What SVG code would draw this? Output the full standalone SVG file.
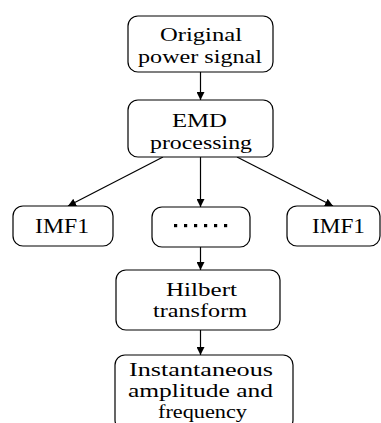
<svg xmlns="http://www.w3.org/2000/svg" width="381" height="423" viewBox="0 0 381 423">
<defs>
<style>
.box{fill:#fff;stroke:#000;stroke-width:1.2}
.t{font-family:"Liberation Serif","Times New Roman",serif;fill:#000;text-anchor:middle}
.big{font-size:19.6px}
.sm{font-size:18.6px}
.imf{font-family:"Liberation Serif","Times New Roman",serif;font-size:22px;fill:#000}
.ln{stroke:#000;stroke-width:1.2;fill:none;marker-end:url(#ah)}
</style>
<marker id="ah" viewBox="0 0 10 10" refX="10" refY="5" markerWidth="8" markerHeight="8" markerUnits="userSpaceOnUse" orient="auto">
<path d="M0,0 L10,5 L0,10 Z" fill="#000"/>
</marker>
</defs>
<rect width="381" height="423" fill="#fff"/>
<g id="connectors">
<line class="ln" x1="200.5" y1="72" x2="200.5" y2="100"/>
<line class="ln" x1="163" y1="157" x2="68" y2="206"/>
<line class="ln" x1="200.5" y1="157" x2="200.5" y2="207"/>
<line class="ln" x1="237" y1="157" x2="333" y2="206"/>
<line class="ln" x1="200.5" y1="247" x2="200.5" y2="270"/>
<line class="ln" x1="200.5" y1="330" x2="200.5" y2="355"/>
</g>
<g id="original">
<rect class="box" x="128" y="16" width="145" height="56" rx="10"/>
<text class="t big" x="201" y="41" textLength="82" lengthAdjust="spacingAndGlyphs">Original</text>
<text class="t big" x="200" y="63" textLength="124" lengthAdjust="spacingAndGlyphs">power signal</text>
</g>
<g id="emd">
<rect class="box" x="128" y="100" width="145" height="57" rx="10"/>
<text class="t big" x="199.5" y="127" textLength="55" lengthAdjust="spacingAndGlyphs">EMD</text>
<text class="t big" x="201" y="149" textLength="102" lengthAdjust="spacingAndGlyphs">processing</text>
</g>
<g id="imf-left">
<rect class="box" x="13" y="206" width="100" height="40" rx="10"/>
<text class="imf" x="35" y="233" textLength="54" lengthAdjust="spacingAndGlyphs">IMF1</text>
</g>
<g id="dots">
<rect class="box" x="152" y="207" width="98" height="40" rx="10"/>
<g fill="#000">
<rect x="174" y="224" width="3.2" height="3.2"/>
<rect x="184" y="224" width="3.2" height="3.2"/>
<rect x="194" y="224" width="3.2" height="3.2"/>
<rect x="204" y="224" width="3.2" height="3.2"/>
<rect x="214" y="224" width="3.2" height="3.2"/>
<rect x="224" y="224" width="3.2" height="3.2"/>
</g>
</g>
<g id="imf-right">
<rect class="box" x="287" y="206" width="93" height="40" rx="10"/>
<text class="imf" x="312" y="233" textLength="53" lengthAdjust="spacingAndGlyphs">IMF1</text>
</g>
<g id="hilbert">
<rect class="box" x="116" y="270" width="164" height="60" rx="10"/>
<text class="t sm" x="201.5" y="296" textLength="71" lengthAdjust="spacingAndGlyphs">Hilbert</text>
<text class="t sm" x="200" y="317" textLength="94" lengthAdjust="spacingAndGlyphs">transform</text>
</g>
<g id="instantaneous">
<rect class="box" x="115" y="355" width="178" height="75" rx="10"/>
<text class="t sm" x="201" y="376" textLength="144" lengthAdjust="spacingAndGlyphs">Instantaneous</text>
<text class="t sm" x="200.5" y="397" textLength="145" lengthAdjust="spacingAndGlyphs">amplitude and</text>
<text class="t sm" x="202.5" y="418" textLength="89" lengthAdjust="spacingAndGlyphs">frequency</text>
</g>
</svg>
